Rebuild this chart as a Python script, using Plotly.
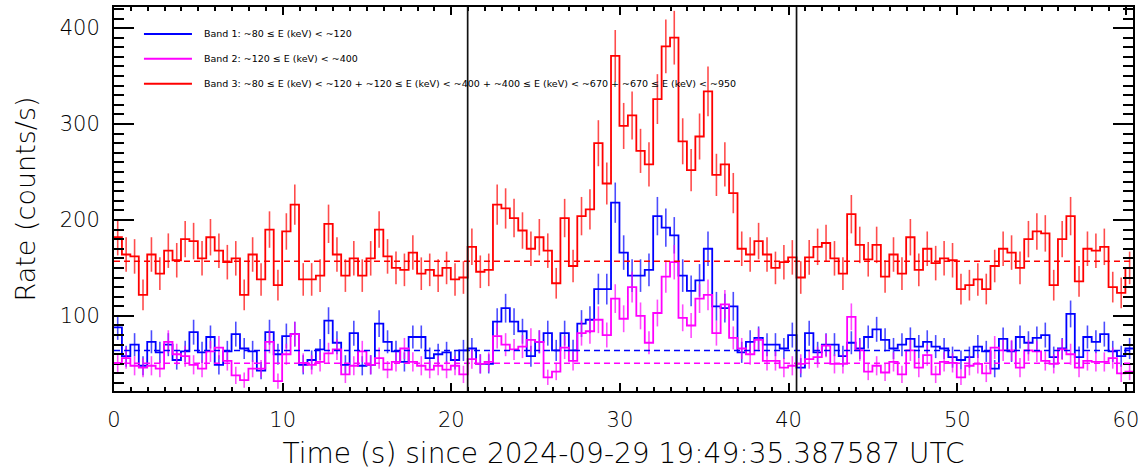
import numpy as np
import plotly.graph_objects as go

# ---------------- data ----------------
bin_start = -0.03      # s, left edge of first time bin
bin_width = 0.5        # s

band1_rate = [88, 58, 70, 48, 73, 62, 70, 54, 63, 83, 62, 78, 49, 63, 81, 66, 63, 43, 83, 60,
              79, 81, 49, 54, 65, 95, 72, 49, 82, 48, 49, 92, 73, 63, 52, 78, 78, 56, 60, 62,
              54, 64, 66, 50, 50, 94, 108, 94, 84, 58, 73, 82, 64, 82, 64, 92, 96, 128, 128, 218,
              166, 142, 142, 148, 204, 192, 184, 142, 126, 137, 170, 110, 108, 110, 62, 73, 77, 70, 70, 66,
              80, 46, 82, 62, 70, 70, 58, 72, 66, 78, 86, 75, 66, 70, 76, 68, 73, 68, 66, 57,
              54, 57, 68, 63, 45, 76, 63, 78, 72, 77, 80, 57, 66, 102, 57, 78, 73, 81, 63, 58,
              66]
band1_err = [13, 11, 12, 10, 12, 11, 12, 10, 11, 13, 11, 12, 10, 11, 13, 11, 11, 9, 13, 11,
             13, 13, 10, 10, 11, 14, 12, 10, 13, 10, 10, 14, 12, 11, 10, 12, 12, 11, 11, 11,
             10, 11, 11, 10, 10, 14, 15, 14, 13, 11, 12, 13, 11, 13, 11, 14, 14, 16, 16, 21,
             18, 17, 17, 17, 20, 20, 19, 17, 16, 17, 18, 15, 15, 15, 11, 12, 12, 12, 12, 11,
             13, 10, 13, 11, 12, 12, 11, 12, 11, 12, 13, 12, 11, 12, 12, 12, 12, 12, 11, 11,
             10, 11, 12, 11, 9, 12, 11, 12, 12, 12, 13, 11, 11, 14, 11, 12, 12, 13, 11, 11,
             11]

band2_rate = [51, 56, 48, 46, 48, 45, 73, 60, 58, 49, 45, 63, 67, 53, 38, 33, 45, 45, 73, 32,
              60, 81, 51, 49, 52, 61, 65, 39, 48, 63, 49, 56, 44, 52, 66, 52, 48, 44, 48, 44,
              48, 39, 55, 50, 52, 79, 70, 65, 68, 75, 73, 36, 42, 67, 53, 82, 84, 96, 80, 118,
              97, 130, 100, 72, 103, 141, 156, 98, 90, 118, 122, 82, 112, 77, 66, 60, 75, 53, 53, 46,
              48, 50, 55, 57, 69, 50, 50, 99, 64, 42, 48, 41, 52, 39, 64, 46, 59, 39, 52, 51,
              36, 48, 50, 40, 67, 64, 64, 46, 64, 63, 53, 50, 65, 60, 46, 53, 52, 52, 56, 40,
              42]
band2_err = [10, 11, 10, 10, 10, 9, 12, 11, 11, 10, 9, 11, 12, 10, 9, 8, 9, 9, 12, 8,
             11, 13, 10, 10, 10, 11, 11, 9, 10, 11, 10, 11, 9, 10, 11, 10, 10, 9, 10, 9,
             10, 9, 10, 10, 10, 13, 12, 11, 12, 12, 12, 8, 9, 12, 10, 13, 13, 14, 13, 15,
             14, 16, 14, 12, 14, 17, 18, 14, 13, 15, 16, 13, 15, 12, 11, 11, 12, 10, 10, 10,
             10, 10, 10, 11, 12, 10, 10, 14, 11, 9, 10, 9, 10, 9, 11, 10, 11, 9, 10, 10,
             8, 10, 10, 9, 12, 11, 11, 10, 11, 11, 10, 10, 11, 11, 10, 10, 10, 10, 11, 9,
             9]

band3_rate = [182, 164, 162, 122, 164, 144, 168, 158, 180, 178, 160, 182, 168, 156, 160, 122, 164, 138, 190, 132,
              188, 216, 138, 138, 142, 196, 164, 142, 160, 142, 160, 190, 162, 150, 148, 166, 144, 148, 142, 150,
              138, 140, 172, 146, 148, 216, 212, 202, 189, 170, 182, 168, 134, 202, 152, 204, 211, 280, 238, 371,
              298, 309, 272, 258, 326, 381, 390, 282, 252, 287, 334, 247, 258, 228, 170, 164, 178, 164, 150, 156,
              161, 140, 161, 172, 176, 160, 144, 206, 174, 159, 174, 141, 164, 144, 182, 148, 170, 155, 160, 158,
              128, 132, 138, 128, 152, 170, 166, 150, 180, 188, 186, 132, 180, 204, 136, 170, 168, 172, 130, 124,
              150]
band3_err = [19, 18, 18, 16, 18, 17, 18, 18, 19, 19, 18, 19, 18, 18, 18, 16, 18, 17, 19, 16,
             19, 21, 17, 17, 17, 20, 18, 17, 18, 17, 18, 19, 18, 17, 17, 18, 17, 17, 17, 17,
             17, 17, 19, 17, 17, 21, 21, 20, 19, 18, 19, 18, 16, 20, 17, 20, 21, 24, 22, 27,
             24, 25, 23, 23, 26, 28, 28, 24, 22, 24, 26, 22, 23, 21, 18, 18, 19, 18, 17, 18,
             18, 17, 18, 19, 19, 18, 17, 20, 19, 18, 19, 17, 18, 17, 19, 17, 18, 18, 18, 18,
             16, 16, 17, 16, 17, 18, 18, 17, 19, 19, 19, 16, 19, 20, 16, 18, 18, 19, 16, 16,
             17]

band1_bg = 64.0
band2_bg = 50.5
band3_bg = 157.0

interval_edges = [20.97, 40.47]

x_ticks = [0, 10, 20, 30, 40, 50, 60]
y_ticks = [100, 200, 300, 400]

band_labels = [
    "Band 1: ~80 \u2264 E (keV) < ~120",
    "Band 2: ~120 \u2264 E (keV) < ~400",
    "Band 3: ~80 \u2264 E (keV) < ~120 + ~120 \u2264 E (keV) < ~400 + ~400 \u2264 E (keV) < ~670 + ~670 \u2264 E (keV) < ~950",
]
x_title = "Time (s) since 2024-09-29 19:49:35.387587 UTC"
y_title = "Rate (counts/s)"

# ---------------- styling ----------------
FONT = "DejaVu Sans"
colors = ["#0000ff", "#ff00ff", "#ff0000"]
err_colors = ["rgba(0,0,255,0.7)", "rgba(255,0,255,0.7)", "rgba(255,0,0,0.7)"]

n = len(band3_rate)
edges = bin_start + bin_width * np.arange(n + 1)
centers = edges[:-1] + bin_width / 2.0

fig = go.Figure()
series = [(band1_rate, band1_err), (band2_rate, band2_err), (band3_rate, band3_err)]
for (rate, err), c, ec in zip(series, colors, err_colors):
    fig.add_trace(go.Scatter(
        x=edges, y=list(rate) + [rate[-1]], mode="lines",
        line=dict(shape="hv", color=c, width=1.8),
        showlegend=False, hoverinfo="skip"))
    fig.add_trace(go.Scatter(
        x=centers, y=rate, mode="markers",
        marker=dict(size=1, color="rgba(0,0,0,0)"),
        error_y=dict(type="data", array=err, visible=True, color=ec,
                     thickness=1.6, width=0),
        showlegend=False, hoverinfo="skip"))

shapes = []
for bg, c in zip([band1_bg, band2_bg, band3_bg], colors):
    shapes.append(dict(type="line", xref="paper", x0=0, x1=1, yref="y", y0=bg, y1=bg,
                       line=dict(color=c, width=1.5, dash="6px,4px")))
for xe in interval_edges:
    shapes.append(dict(type="line", xref="x", x0=xe, x1=xe, yref="paper", y0=0, y1=1,
                       line=dict(color="#111111", width=1.7)))

# legend (key lines + labels) in the top-left corner of the plot
annotations = []
leg_y = [0.930, 0.865, 0.800]
for lab, c, yy in zip(band_labels, colors, leg_y):
    shapes.append(dict(type="line", xref="paper", yref="paper", x0=0.0294, x1=0.0765,
                       y0=yy, y1=yy, line=dict(color=c, width=2)))
    annotations.append(dict(text=lab, xref="paper", yref="paper", x=0.0864, y=yy,
                            xanchor="left", yanchor="middle", showarrow=False,
                            font=dict(family=FONT, size=9.5, color="black")))

axis_common = dict(showline=True, linecolor="black", linewidth=2, mirror="ticks",
                   ticks="inside", tickcolor="black", tickwidth=1.5,
                   showgrid=False, zeroline=False)

fig.update_layout(
    width=1148, height=476,
    margin=dict(l=114, r=15, t=5, b=85),
    paper_bgcolor="white", plot_bgcolor="white",
    shapes=shapes, annotations=annotations,
    font=dict(family=FONT, color="black"),
    xaxis=dict(range=[0, 60.42], tickmode="array", tickvals=x_ticks,
               ticktext=[str(v) for v in x_ticks], ticklen=8,
               minor=dict(tickmode="linear", tick0=0, dtick=1, ticks="inside",
                          ticklen=4, tickwidth=1.5, tickcolor="black", showgrid=False),
               tickfont=dict(family=FONT, size=21, color="black", weight=200),
               ticklabelstandoff=9,
               title=dict(text=x_title, font=dict(family=FONT, size=28, color="black", weight=200),
                          standoff=12),
               **axis_common),
    yaxis=dict(range=[21.7, 422], tickmode="array", tickvals=y_ticks,
               ticktext=[str(v) for v in y_ticks], ticklen=20,
               minor=dict(tickmode="linear", tick0=0, dtick=10, ticks="inside",
                          ticklen=10, tickwidth=1.5, tickcolor="black", showgrid=False),
               tickfont=dict(family=FONT, size=21, color="black", weight=200),
               ticklabelstandoff=8,
               title=dict(text=y_title, font=dict(family=FONT, size=27, color="black", weight=200),
                          standoff=16),
               **axis_common),
)

fig.write_html("out.html", config={"displayModeBar": False},
               post_script="document.body.style.margin='0px';document.body.style.overflow='hidden';")
